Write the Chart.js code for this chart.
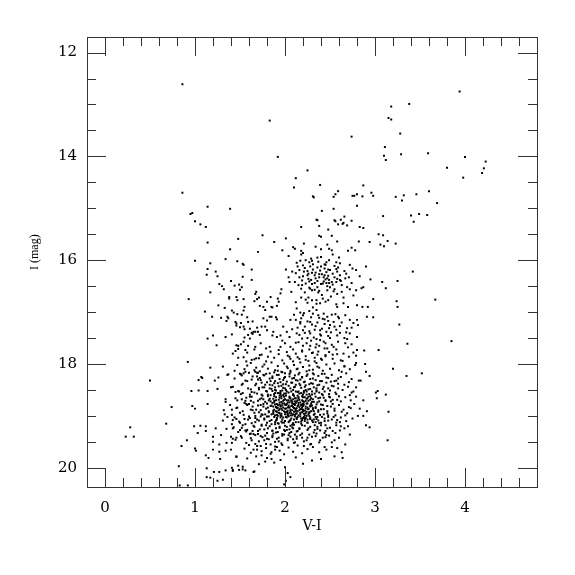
<!DOCTYPE html>
<html>
<head>
<meta charset="utf-8">
<script src="https://cdn.jsdelivr.net/npm/chart.js@4/dist/chart.umd.min.js"></script>
<style>
  html, body { margin: 0; padding: 0; background: #fff; }
</style>
</head>
<body>
<canvas id="cmd-chart" width="575" height="575"></canvas>
<script>
const xTicks = [0, 1, 2, 3, 4];
const yTicks = [12, 14, 16, 18, 20];

// [V-I, I]
const brightStars = [
  [0.86,12.61],[1.83,13.31],[1.92,14.01],[2.74,13.62],[2.25,14.27],[2.12,14.42],[2.10,14.60],[2.39,14.55],
  [2.59,14.67],[2.56,14.73],[2.54,14.78],[2.31,14.77],[2.32,14.79],[2.75,14.76],[2.77,14.76],[2.80,14.73],
  [2.87,14.56],[2.96,14.70],[2.98,14.76],[2.86,14.77],[2.80,14.95],[2.54,15.01],[2.41,15.05],[2.66,15.16],
  [2.35,15.22],[2.55,15.23],[2.56,15.25],[2.74,15.24],[2.64,15.30],[2.69,15.33],[2.38,15.34],[2.83,15.36],
  [2.87,15.38],[2.18,15.36],[2.48,15.41],[0.86,14.70],[1.14,14.97],[1.39,15.01],[0.97,15.09],[0.95,15.11],
  [1.00,15.25],[1.06,15.31],[1.12,15.36],[3.94,12.75],[3.38,12.99],[3.18,13.04],[3.15,13.26],[3.18,13.29],
  [3.28,13.56],[3.11,13.82],[3.10,13.99],[3.12,14.07],[3.29,13.96],[3.59,13.94],[4.00,14.01],[4.23,14.10],
  [4.21,14.23],[4.19,14.32],[3.80,14.22],[3.98,14.41],[3.69,14.90],[3.60,14.67],[3.46,14.73],[3.32,14.75],
  [3.23,14.78],[3.30,14.85],[3.09,15.15],[3.40,15.14],[3.43,15.26],[3.49,15.11],[3.58,15.13],[2.36,15.23],
  [2.62,15.22],[2.59,15.31],[2.65,15.28]
];

const clumpStars = [
  [1.75,15.52],[1.88,15.65],[1.48,15.59],[1.14,15.66],[1.39,15.79],[1.70,15.84],[2.01,15.58],[2.21,15.68],
  [2.38,15.53],[2.40,15.55],[2.47,15.70],[2.52,15.53],[2.58,15.64],[2.34,15.74],[2.40,15.79],[1.97,15.81],
  [2.09,15.75],[2.11,15.78],[2.18,15.82],[2.49,15.78],[2.70,15.82],[2.74,15.76],[2.78,15.81],[2.82,15.64],
  [2.94,15.65],[3.04,15.50],[3.09,15.52],[3.06,15.70],[3.10,15.73],[3.14,15.63],[3.23,15.68],[1.00,16.01],
  [1.17,16.06],[1.14,16.17],[1.13,16.28],[1.23,16.22],[1.25,16.31],[1.34,15.98],[1.47,16.02],[1.53,16.07],
  [1.54,16.09],[1.63,16.18],[1.40,16.40],[1.27,16.46],[1.30,16.50],[1.32,16.56],[1.17,16.62],[1.44,16.49],
  [1.49,16.47],[1.52,16.52],[1.50,16.57],[1.63,16.38],[1.53,16.32],[0.93,16.75],[1.26,16.87],[1.38,16.71],
  [1.38,16.74],[1.46,16.71],[1.47,16.77],[1.54,16.75],[1.68,16.61],[1.67,16.65],[1.69,16.75],[1.71,16.72],
  [1.66,16.79],[1.72,16.88],[1.78,16.96],[1.84,16.71],[1.92,16.74],[1.86,16.91],[1.91,16.88],
  [2.18,15.89],[2.20,15.86],[2.13,16.05],[2.17,16.01],[2.23,16.00],[2.27,16.04],[2.30,16.01],[2.36,15.95],
  [2.40,15.94],[2.37,16.03],[2.46,16.04],[2.49,16.00],[2.44,16.08],[2.52,15.81],[2.53,15.89],[2.57,16.04],
  [2.59,16.14],[2.72,16.09],[2.75,16.16],[2.79,16.19],[2.08,16.22],[2.12,16.25],[2.16,16.19],[2.20,16.31],
  [2.25,16.29],[2.30,16.24],[2.33,16.29],[2.38,16.33],[2.43,16.33],[2.47,16.35],[2.45,16.37],[2.52,16.42],
  [2.57,16.42],[2.61,16.38],[2.67,16.35],[2.71,16.33],[2.01,16.18],[2.04,16.33],[2.05,16.42],[1.96,16.56],
  [1.95,16.64],[2.11,16.42],[2.15,16.48],[2.19,16.48],[2.23,16.45],[2.27,16.53],[2.30,16.58],[2.36,16.52],
  [2.38,16.59],[2.41,16.67],[2.47,16.58],[2.50,16.52],[2.55,16.56],[2.58,16.65],[2.63,16.61],[2.69,16.52],
  [2.72,16.56],[2.79,16.58],[2.85,16.54],[2.87,16.52],[2.18,16.72],[2.23,16.76],[2.26,16.72],[2.30,16.77],
  [2.35,16.77],[2.39,16.83],[2.45,16.80],[2.48,16.77],[2.58,16.90],[2.65,16.83],[2.70,16.90],[2.80,16.87],
  [2.86,16.90],[2.92,16.90],[2.98,16.75],[2.95,16.37],[3.08,16.42],[3.12,16.54],[3.25,16.40],[3.24,16.79],
  [3.25,16.90],[3.42,16.22],[3.67,16.76],[1.85,16.90],[1.93,16.80],[1.76,16.90],[1.80,16.80],
  [2.22,16.15],[2.25,16.21],[2.28,16.12],[2.31,16.18],[2.34,16.24],[2.36,16.14],[2.39,16.20],[2.41,16.27],
  [2.44,16.16],[2.46,16.23],[2.48,16.30],[2.50,16.19],[2.53,16.26],[2.55,16.33],[2.58,16.22],[2.61,16.29],
  [2.29,16.38],[2.33,16.44],[2.36,16.40],[2.40,16.46],[2.43,16.41],[2.46,16.44],[2.49,16.38],[2.53,16.47],
  [2.26,16.36],
  [2.31,16.08],[2.42,16.45],[2.26,16.26],[2.55,16.11],[2.37,16.62],[2.48,16.18],[2.19,16.39],[2.63,16.48],
  [2.34,16.35],[2.51,16.70],[2.28,16.55],[2.44,16.29],[2.58,16.36],[2.22,16.62],[2.40,16.12],[2.66,16.21],
  [2.35,16.84],[2.47,16.50],[2.29,15.97],[2.54,16.60],[2.16,16.33],[2.42,16.74],[2.61,16.06],[2.38,16.27],
  [2.49,16.44],[2.25,16.82],[2.33,16.57],[2.57,16.85],[2.45,16.09],[2.20,16.10],[2.74,16.44],[2.30,16.46],
  [2.21,16.22],[2.57,16.17],[2.14,16.12],[2.62,16.40],[2.27,16.41],[2.68,16.26],[2.18,16.55],
  [2.07,16.61],[2.12,16.81],[2.76,16.68],[2.83,16.31],[2.65,16.72],[2.04,15.92],[2.60,15.95],[2.90,16.12]
];

const giantBranch = [
  [2.13,16.93],[2.17,17.01],[2.20,17.06],[2.27,16.98],[2.31,16.91],[2.35,16.96],[2.37,17.06],[2.43,17.03],
  [2.47,17.09],[2.12,17.15],[2.17,17.22],[2.22,17.28],[2.28,17.19],[2.34,17.27],[2.39,17.35],[2.44,17.23],
  [2.49,17.31],[2.54,17.19],[2.59,17.09],[2.67,17.06],[2.72,17.15],[2.80,17.15],[2.91,17.09],[2.98,17.10],
  [2.80,17.48],[2.81,17.25],[2.69,17.31],[2.72,17.41],[1.98,17.28],[2.02,17.38],[2.05,17.48],[2.13,17.41],
  [2.19,17.51],[2.24,17.60],[2.28,17.41],[2.32,17.49],[2.35,17.62],[2.39,17.54],[2.45,17.60],[2.48,17.46],
  [2.54,17.67],[2.59,17.57],[2.67,17.60],[1.87,17.38],[1.91,17.48],[1.78,17.28],[1.67,17.38],[1.72,17.44],
  [1.46,17.22],[1.54,17.28],[1.61,17.51],[1.83,17.67],[1.95,17.67],[2.06,17.67],[3.27,17.24],[3.85,17.56],
  [3.36,17.61],[1.83,17.09],
  [2.10,17.05],[2.14,17.30],[2.18,17.12],[2.22,17.40],[2.25,17.18],[2.29,17.55],[2.31,17.03],[2.33,17.34],
  [2.36,17.20],[2.40,17.45],[2.42,17.13],[2.44,17.70],[2.46,17.38],[2.50,17.50],[2.52,17.05],[2.55,17.28],
  [2.57,17.72],[2.61,17.40],[2.63,17.20],[2.66,17.50],[2.70,17.68],[2.74,17.30],[2.20,17.65],[2.27,17.72],
  [2.38,17.65],[2.15,17.58],[2.06,17.15],[2.00,17.60],[1.95,17.45],[1.90,17.10],
  [1.11,16.99],[1.19,17.09],[1.33,16.92],[1.41,16.97],[1.43,17.01],[1.36,17.09],[1.37,17.12],[1.35,17.17],
  [1.29,17.11],[1.47,17.04],[1.52,17.05],[1.54,16.97],[1.55,16.90],[1.45,17.19],[1.51,17.21],[1.46,17.26],
  [1.58,17.10],[1.59,17.19],[1.64,17.18],[1.76,17.12],[1.14,17.51],[1.20,17.45],[1.34,17.48],[1.41,17.43],
  [1.50,17.29],[1.55,17.33],[1.61,17.32],[1.63,17.40],[1.65,17.38],[1.69,17.30],[1.70,17.38],[1.74,17.28],
  [1.80,17.35],[1.24,17.64],[1.46,17.64],[1.48,17.71],[1.51,17.62],[1.42,17.80],[1.56,17.73],[1.59,17.65],
  [1.67,17.67],[1.73,17.60],[1.63,17.92],[1.68,17.89],[1.72,17.83],[0.92,17.96],[1.80,17.16],[1.85,17.09],
  [1.91,17.14],[1.86,17.45],[1.45,17.75],[1.48,17.65],[1.54,17.57],[1.55,17.49],[1.59,17.44],[1.64,17.42],
  [1.54,17.87],[1.71,17.89],
  [2.88,17.74],[3.04,17.73],[2.79,17.98],[2.79,17.84],[2.80,17.73],[2.89,18.00],[2.90,18.15],[2.94,18.23],
  [2.82,18.32],[2.84,18.32],[3.20,18.09],[3.52,18.18],[3.35,18.23],
  [2.16,17.44],[2.38,17.11],[2.52,17.63],[2.23,17.92],[2.61,17.27],[2.08,17.33],[2.45,17.85],[2.30,17.24],
  [2.69,17.52],[2.19,17.76],[2.56,17.04],[2.34,17.68],[2.03,17.84],[2.48,17.17],[2.27,17.37],[2.65,17.80],
  [2.12,17.59],[2.41,17.32],[2.58,17.45],[2.21,17.02],[2.36,17.82],[2.74,17.62],[2.09,17.72],[2.43,17.57],
  [2.29,17.10],[2.62,17.93],[2.17,17.19],[2.51,17.39],[2.33,17.95],[2.76,17.21],[2.25,17.50],[2.47,17.70],
  [2.14,17.87],[2.39,17.43],[2.60,17.12],[2.31,17.78],[1.97,17.55],[2.53,17.82],[2.20,17.35],[2.44,17.14],
  [2.68,17.39],[2.06,17.90],[2.35,17.52],[2.57,17.34],[1.93,17.73],[2.28,17.65],[2.50,17.25],[2.40,17.90]
];

const mainBody = [
  [1.58,17.78],[1.66,17.91],[1.74,17.82],[1.79,17.95],[1.84,17.76],[1.88,17.88],[1.93,17.81],[1.97,17.93],
  [2.02,17.77],[2.05,17.86],[2.09,17.95],[2.12,17.80],[2.16,17.90],[2.19,17.74],[2.23,17.85],[2.26,17.94],
  [2.30,17.79],[2.33,17.88],[2.37,17.76],[2.41,17.92],[2.45,17.83],[2.49,17.77],[2.53,17.90],[2.58,17.81],
  [2.64,17.94],[2.71,17.86],[2.76,17.78],
  [1.47,18.02],[1.55,18.10],[1.62,17.98],[1.68,18.07],[1.72,18.14],[1.77,18.01],[1.81,18.09],[1.85,17.97],
  [1.89,18.12],[1.92,18.04],[1.96,18.15],[1.99,17.99],[2.03,18.08],[2.06,18.13],[2.10,18.02],[2.13,18.10],
  [2.17,17.97],[2.20,18.06],[2.24,18.14],[2.27,18.03],[2.31,18.11],[2.35,17.98],[2.38,18.07],[2.42,18.13],
  [2.46,18.01],[2.50,18.09],[2.55,17.99],[2.60,18.12],[2.66,18.04],[2.72,18.10],[2.78,18.02],
  [1.44,18.28],[1.51,18.20],[1.58,18.33],[1.64,18.24],[1.69,18.17],[1.73,18.31],[1.77,18.22],[1.80,18.35],
  [1.83,18.18],[1.86,18.27],[1.89,18.33],[1.91,18.21],[1.94,18.29],[1.97,18.16],[2.00,18.25],[2.02,18.34],
  [2.05,18.19],[2.08,18.28],[2.11,18.22],[2.14,18.32],[2.16,18.17],[2.19,18.26],[2.22,18.34],[2.25,18.20],
  [2.28,18.29],[2.31,18.18],[2.34,18.31],[2.37,18.23],[2.41,18.33],[2.44,18.19],[2.48,18.27],[2.52,18.21],
  [2.57,18.32],[2.62,18.25],[2.68,18.18],[2.74,18.29],
  [1.42,18.44],[1.48,18.52],[1.53,18.38],[1.59,18.47],[1.63,18.54],[1.67,18.41],[1.71,18.49],[1.74,18.36],
  [1.77,18.45],[1.80,18.53],[1.83,18.40],[1.85,18.48],[1.88,18.37],[1.90,18.51],[1.93,18.43],[1.95,18.55],
  [1.98,18.39],[2.00,18.47],[2.02,18.53],[2.04,18.42],[2.07,18.36],[2.09,18.50],[2.11,18.44],[2.14,18.54],
  [2.16,18.38],[2.18,18.46],[2.21,18.52],[2.23,18.41],[2.26,18.49],[2.29,18.37],[2.32,18.45],[2.35,18.53],
  [2.38,18.40],[2.42,18.48],[2.46,18.36],[2.50,18.51],[2.54,18.43],[2.59,18.38],[2.64,18.50],[2.70,18.44],
  [2.76,18.53],
  [1.45,18.66],[1.51,18.58],[1.56,18.71],[1.61,18.63],[1.65,18.74],[1.69,18.57],[1.72,18.68],[1.75,18.61],
  [1.78,18.73],[1.81,18.59],[1.83,18.67],[1.86,18.75],[1.88,18.62],[1.90,18.70],[1.92,18.56],[1.94,18.65],
  [1.96,18.73],[1.98,18.60],[2.00,18.68],[2.01,18.57],[2.03,18.74],[2.05,18.63],[2.07,18.70],[2.09,18.58],
  [2.11,18.66],[2.12,18.75],[2.14,18.61],[2.16,18.69],[2.18,18.56],[2.20,18.72],[2.22,18.64],[2.24,18.59],
  [2.26,18.71],[2.28,18.62],[2.31,18.68],[2.33,18.57],[2.36,18.74],[2.39,18.65],[2.42,18.60],[2.45,18.71],
  [2.49,18.63],[2.53,18.69],[2.57,18.58],[2.62,18.72],[2.67,18.64],[2.73,18.70],
  [1.47,18.84],[1.53,18.91],[1.58,18.79],[1.62,18.88],[1.66,18.94],[1.70,18.80],[1.73,18.89],[1.76,18.77],
  [1.79,18.86],[1.82,18.93],[1.84,18.81],[1.87,18.90],[1.89,18.78],[1.91,18.85],[1.93,18.94],[1.95,18.82],
  [1.97,18.89],[1.99,18.76],[2.00,18.86],[2.02,18.93],[2.04,18.80],[2.06,18.88],[2.07,18.95],[2.09,18.83],
  [2.10,18.77],[2.12,18.91],[2.13,18.85],[2.15,18.79],[2.17,18.94],[2.18,18.87],[2.20,18.81],[2.22,18.90],
  [2.24,18.76],[2.25,18.84],[2.27,18.93],[2.29,18.80],[2.31,18.88],[2.34,18.83],[2.37,18.92],[2.40,18.78],
  [2.43,18.87],[2.47,18.95],[2.51,18.82],[2.55,18.90],[2.60,18.79],[2.65,18.88],[2.71,18.83],
  [1.44,19.03],[1.49,19.11],[1.54,18.98],[1.59,19.07],[1.63,19.14],[1.67,19.00],[1.71,19.09],[1.74,18.97],
  [1.77,19.05],[1.80,19.13],[1.82,19.01],[1.85,19.08],[1.87,18.96],[1.89,19.12],[1.91,19.04],[1.93,19.15],
  [1.95,18.99],[1.97,19.07],[1.99,19.13],[2.01,19.02],[2.03,18.97],[2.05,19.10],[2.07,19.05],[2.09,19.14],
  [2.11,18.98],[2.13,19.06],[2.15,19.12],[2.17,19.01],[2.19,19.08],[2.21,18.96],[2.23,19.04],[2.25,19.13],
  [2.27,19.00],[2.30,19.09],[2.32,18.98],[2.35,19.06],[2.38,19.14],[2.41,19.02],[2.44,19.10],[2.48,18.99],
  [2.52,19.07],[2.57,19.13],[2.62,19.03],[2.68,19.10],
  [1.42,19.24],[1.48,19.31],[1.53,19.18],[1.58,19.27],[1.62,19.34],[1.66,19.21],[1.70,19.29],[1.74,19.17],
  [1.77,19.26],[1.80,19.33],[1.83,19.20],[1.86,19.28],[1.89,19.16],[1.92,19.31],[1.94,19.23],[1.97,19.35],
  [2.00,19.19],[2.02,19.27],[2.05,19.33],[2.08,19.22],[2.10,19.17],[2.13,19.30],[2.16,19.24],[2.19,19.34],
  [2.22,19.19],[2.25,19.27],[2.28,19.21],[2.32,19.32],[2.36,19.25],[2.40,19.18],[2.45,19.29],[2.50,19.23],
  [2.56,19.33],[2.62,19.20],
  [1.45,19.46],[1.51,19.39],[1.57,19.52],[1.62,19.43],[1.67,19.37],[1.71,19.49],[1.75,19.41],[1.79,19.54],
  [1.82,19.45],[1.86,19.38],[1.89,19.50],[1.93,19.42],[1.96,19.53],[1.99,19.36],[2.03,19.47],[2.06,19.40],
  [2.10,19.52],[2.13,19.44],[2.17,19.37],[2.21,19.49],[2.25,19.42],[2.29,19.54],[2.34,19.39],[2.39,19.47],
  [2.45,19.41],[2.52,19.51],
  [1.55,19.63],[1.62,19.71],[1.69,19.58],[1.74,19.68],[1.79,19.62],[1.84,19.73],[1.89,19.59],[1.94,19.67],
  [1.99,19.74],[2.04,19.61],[2.09,19.69],[2.14,19.57],[2.19,19.72],[2.25,19.64],[2.31,19.60],[2.38,19.70],
  [2.46,19.65],
  [1.58,19.82],[1.71,19.93],[1.95,19.85],[2.12,19.80],[2.20,19.92],[2.40,19.83]
];

const mainCore = [
  [1.86,18.52],[1.88,18.58],[1.90,18.64],[1.93,18.69],[1.95,18.58],[1.97,18.51],[1.99,18.63],[2.02,18.70],
  [2.04,18.55],[2.06,18.66],[2.08,18.73],[2.10,18.61],[2.12,18.53],[2.15,18.66],[2.17,18.74],[2.19,18.62],
  [2.21,18.55],[2.24,18.67],[2.27,18.58],[2.30,18.73],[1.87,18.82],[1.90,18.91],[1.92,18.79],[1.94,18.87],
  [1.96,18.96],[1.98,18.84],[2.01,18.79],[2.03,18.90],[2.05,18.84],[2.08,18.80],[2.10,18.92],[2.11,18.86],
  [2.14,18.81],[2.16,18.89],[2.19,18.84],[2.21,18.78],[2.23,18.95],[2.26,18.87],[2.28,18.82],[2.32,18.91],
  [2.35,18.78],[1.88,19.02],[1.90,19.09],[1.92,19.00],[1.96,19.11],[1.98,19.03],[2.00,19.10],[2.04,19.01],
  [2.06,19.08],[2.08,18.99],[2.10,19.07],[2.12,19.12],[2.14,19.02],[2.18,19.11],[2.20,19.04],[2.22,19.10],
  [2.24,19.00],[2.28,19.06],[2.31,19.12],[2.34,19.02],[2.37,19.09],
  [1.83,18.47],[2.27,18.12],[1.94,19.21],[2.41,18.58],[1.71,18.93],[2.08,18.36],[2.33,19.27],[1.62,18.49],
  [2.15,18.99],[1.99,18.27],[2.47,18.81],[1.78,19.38],[2.22,18.44],[1.88,18.71],[2.36,18.05],[2.03,19.44],
  [1.67,19.12],[2.29,18.66],[1.92,18.13],[2.54,19.02],[1.81,18.84],[2.12,18.31],[2.44,19.33],[1.74,18.59],
  [2.19,19.18],[1.96,18.42],[2.38,18.72],[1.86,19.29],[2.06,18.91],[2.59,18.47],[1.69,18.24],[2.24,19.47],
  [1.91,18.98],[2.31,18.38],[2.01,18.61],[1.77,19.07],[2.43,18.97],[2.14,18.09],[1.84,18.33],[2.26,18.87],
  [1.97,19.38],[2.50,18.64],[1.64,18.82],[2.09,19.24],[2.35,18.51],[1.89,18.56],[2.18,18.78],[2.57,19.18],
  [1.79,18.19],[2.04,18.83],[2.40,19.13],[1.72,19.26],[2.21,18.35],[1.94,18.74],[2.46,18.26],[2.11,19.36],
  [1.85,19.16],[2.28,19.03],[2.00,18.18],[1.60,19.01],[2.37,18.89],[1.93,19.49],[2.16,18.57],[2.53,18.77],
  [1.76,18.68],[2.06,19.19],[2.32,18.20],[1.87,18.93],[2.23,18.71],[2.63,18.92],[1.98,18.46],[2.42,19.42],
  [1.68,18.38],[2.13,18.95],[1.90,19.32],[2.30,18.59],[2.02,18.05],[1.81,18.62],[2.48,19.09],[2.19,18.25],
  [1.95,19.03],[2.36,19.21],[1.73,18.79],[2.07,18.53],[2.25,19.13],[1.86,18.24],[2.56,18.55],[2.11,18.72],
  [1.99,19.27],[2.39,18.33],[1.65,19.19],[2.20,18.91],[1.92,18.37],[2.45,18.70],[2.04,19.12],[1.80,19.44],
  [2.28,18.48],[2.14,19.29],[1.88,18.88],[2.61,19.28],[2.02,18.77],[2.33,18.96],[1.75,18.45],[2.17,18.41],
  [1.96,18.66],[2.51,18.34],[2.09,18.97],[1.83,19.10],[2.27,19.36],[2.43,18.44],[1.70,19.35],[2.05,18.24],
  [2.34,18.63],[1.91,19.07],[2.21,19.02],[1.97,18.80],[2.15,18.64],[1.84,18.72],[2.39,18.98],[2.00,18.93],
  [2.24,18.53],[1.78,18.97],[2.47,19.24],[2.10,18.45],[1.94,18.95],[2.30,18.80],[2.07,19.31],[1.63,18.63],
  [2.55,18.86],[1.89,18.45],[2.18,19.05],[2.36,18.41],[2.01,18.39],[1.82,18.91],[2.26,18.97],[2.12,18.66],
  [1.95,18.52],[2.44,18.53],[2.08,18.89],[1.73,19.01],[2.32,19.07],[2.20,18.59],[1.90,18.83],[2.03,18.96],
  [2.16,18.83],[1.98,18.71],[2.29,18.91],[2.11,18.79],[1.87,18.67],[2.23,18.82],[2.05,18.74],[1.93,18.89],
  [2.14,18.91],[2.01,18.86],[2.19,18.70],[2.07,18.81],[1.96,19.00],[2.25,18.76],[2.09,18.68],[2.13,19.04],
  [1.99,18.91],[2.17,18.97],[2.04,18.70],[2.22,19.06],[1.92,18.84],[2.10,18.85],[2.28,18.69],[2.00,18.78],
  [2.15,18.75],[2.06,18.99],[1.97,18.76],[2.20,18.88],[2.12,18.96],[1.89,18.99],[2.24,18.92],[2.03,18.84],
  [2.18,18.80],[2.08,18.76],[1.95,18.80],[2.31,18.85],[2.13,18.72],[2.02,19.03],[2.21,18.73],[1.91,18.77]
];

const blobOuter = [
  [1.72,18.27],[2.41,18.19],[1.86,19.41],[2.28,19.55],[1.79,18.52],[2.47,18.91],[1.93,18.21],[2.35,19.34],
  [1.68,18.88],[2.52,18.42],[1.81,19.24],[2.19,19.42],[2.06,18.16],[2.44,19.05],[1.75,18.98],[2.31,18.28],
  [1.97,19.56],[2.56,18.99],[1.64,19.29],[2.24,18.23],[1.88,18.16],[2.38,19.51],[1.77,19.47],[2.49,18.58],
  [2.11,19.51],[1.83,18.28],[2.60,18.62],[1.70,18.71],[2.33,19.18],[1.98,18.31],[2.21,19.58],[1.85,18.80],
  [2.42,18.79],[2.04,19.37],[1.74,19.19],[2.27,18.39],[1.91,19.44],[2.53,19.29],[1.66,18.55],[2.15,18.20],
  [2.37,18.66],[1.80,19.01],[2.09,19.45],[2.48,18.47],[1.94,18.61],[2.26,19.24],[1.71,18.46],[2.02,19.21],
  [2.40,18.87],[1.87,19.34],[2.17,18.30],[2.58,19.08],[1.78,18.40],[2.30,19.40],[1.99,18.57],[2.45,19.18],
  [1.84,18.60],[2.13,19.40],[2.35,18.47],[1.69,19.07],[2.06,18.47],[2.51,18.72],[1.92,19.14],[2.23,18.50],
  [1.76,18.82],[2.39,19.28],[2.00,19.29],[1.82,18.70],[2.29,18.76],[2.10,18.27],[1.95,18.35],[2.46,19.37],
  [1.73,19.39],[2.18,19.15],[2.34,18.85],[1.89,18.50],[2.05,19.26],[2.55,18.33],[1.62,18.71],[2.25,19.07],
  [1.96,18.62],[2.12,18.40],[2.32,18.73],[1.85,18.97],[2.08,19.17],[2.43,18.65],[1.79,19.18],[2.20,18.64],
  [2.01,18.50],[2.36,19.02],[1.90,19.24],[2.15,18.53],[1.74,18.66],[2.27,18.94],[2.03,18.99],[1.86,18.41],
  [2.48,19.02],[2.16,19.25],[1.93,18.56],[2.30,18.53],[2.09,18.60],[1.80,18.76],[2.38,18.55],[2.22,18.99],
  [2.05,18.65],[1.97,19.13],[2.26,18.63],[2.12,18.88],[1.88,18.74],[2.34,19.12],[2.19,18.93],[1.99,18.69],
  [2.02,18.92],[2.23,18.86],[2.07,18.71],[1.94,18.78],[2.17,18.87],[2.28,18.80],[2.11,19.01],[1.91,18.92],
  [2.14,18.70],[2.00,18.97],[2.25,18.66],[2.05,18.94],[2.20,18.77],[1.96,18.86]
];

const blueSide = [
  [0.50,18.32],[0.74,18.83],[0.68,19.15],[0.28,19.22],[0.23,19.40],[0.32,19.40],[0.91,19.47],[0.85,19.58],
  [0.82,19.97],[0.83,20.34],[0.92,20.34],[1.00,19.63],[1.01,19.67],[0.96,18.52],[1.04,18.31],[1.08,18.27],
  [1.17,18.07],[1.31,18.05],[1.36,18.21],[1.22,18.32],[1.25,18.48],[1.04,18.51],[1.14,18.52],[1.14,18.77],
  [0.97,18.81],[1.00,18.86],[1.12,19.20],[1.12,19.29],[0.99,19.20],[1.06,19.19],[1.03,19.33],[1.12,19.76],
  [1.15,19.81],[1.13,20.01],[1.13,20.18],[1.17,20.19],[1.21,20.08],[1.25,20.25],[1.31,20.23],[1.27,20.08],
  [1.34,20.05],[1.42,20.06],[1.49,20.04],[1.56,20.05],[1.65,20.08],[1.41,20.00],[1.20,19.40],[1.20,19.50],
  [1.27,19.55],[1.20,19.65],[1.27,19.69],[1.35,19.52],[1.41,19.52],[1.28,19.83],[1.46,19.79],[1.48,19.96],
  [1.34,18.68],[1.34,18.73],[1.32,18.89],[1.33,18.97],[1.31,19.09],[1.36,19.02],[1.39,18.79],[1.41,18.88],
  [1.41,18.98],[1.42,19.08],[1.41,19.16],[1.43,19.22],[1.40,19.40],[1.42,19.44],[1.34,19.67],[1.40,19.65],
  [1.35,19.25],[1.23,19.24],[1.29,19.37],[1.07,18.25],[1.37,18.20],[1.26,18.26],[1.40,18.45],[1.45,18.54],
  [1.49,18.53],[1.56,18.32],[1.63,18.30],[1.53,18.56],[1.47,18.70],[1.52,18.68],[1.57,18.65],[1.57,18.77],
  [1.60,18.77],[1.50,18.94],[1.46,19.06],[1.55,19.06],[1.50,19.27],[1.52,19.23],[1.56,19.28],[1.46,19.42],
  [1.52,19.42],[1.61,19.04],[1.67,19.04],[1.64,18.89],[1.56,19.16],[1.61,19.35],[1.65,19.35],[1.60,19.56],
  [1.67,19.54],[1.65,19.65],[1.69,19.65],[1.74,19.76],[1.80,19.81],[1.85,19.70],[1.89,19.65],[1.91,19.60],
  [1.52,18.22],[1.54,18.18],[1.60,18.17],[1.50,18.19],[1.56,18.15],[1.66,18.12],[1.70,18.17],[1.76,18.21],
  [1.57,17.95],[1.44,18.13],[1.66,17.72],[1.52,18.40],[1.75,18.05],[1.61,18.59],[1.48,17.88],[1.70,18.30],
  [1.58,18.03],[1.79,17.70],[1.46,18.85],[1.67,18.15],[1.55,18.75],[1.81,17.86],[1.63,19.47],[1.50,19.13],
  [1.73,19.58],[1.57,19.30],[1.84,19.55],[1.68,19.78]
];

const faintStars = [
  [2.64,19.81],[2.30,19.86],[2.00,19.99],[2.03,20.10],[2.06,20.18],[1.85,19.83],[1.88,19.90],[1.66,20.07],
  [1.53,20.03],[1.42,20.04],[1.78,19.88],[1.46,19.78],[1.53,19.98],[3.12,18.59],[3.03,18.52],[3.01,18.55],
  [3.02,18.66],[3.15,18.92],[2.91,18.91],[2.87,19.00],[2.81,19.00],[2.90,19.18],[2.94,19.22],[3.14,19.47],
  [2.87,18.70],[2.01,20.25],[1.99,20.32],
  [2.66,18.40],[2.72,18.60],[2.77,18.77],[2.69,18.95],[2.75,19.05],[2.66,19.24],[2.72,19.36],[2.60,19.42],
  [2.67,19.55],[2.58,19.62],[2.79,18.45],[2.83,18.86],[2.63,19.70],[2.55,19.78],
  [2.63,18.15],[2.71,18.35],[2.58,18.69],[2.67,18.99],[2.74,18.55],[2.61,19.12],[2.55,19.47],[2.70,19.20],
  [2.79,18.63],[2.66,18.05],[2.52,19.60],[2.73,18.85],[2.59,18.28],[2.49,19.38],[2.44,19.60]
];

const allStars = [].concat(brightStars, clumpStars, giantBranch, mainBody, mainCore, blobOuter, blueSide, faintStars);

// box round the plot with inward ticks on all four sides, plus the rotated y title
const frameTicks = {
  id: 'frameTicks',
  afterDraw(chart) {
    const { ctx, chartArea: { left, right, top, bottom }, scales: { x, y } } = chart;
    ctx.save();
    ctx.strokeStyle = '#333';
    ctx.lineWidth = 1;
    ctx.beginPath();
    for (let i = 0; i <= 23; i++) {
      const px = Math.round(x.getPixelForValue(i / 5)) + 0.5;
      const len = i % 5 === 0 ? 19 : 9;
      ctx.moveTo(px, bottom); ctx.lineTo(px, bottom - len);
      ctx.moveTo(px, top); ctx.lineTo(px, top + len);
    }
    for (let i = 0; i <= 16; i++) {
      const py = Math.round(y.getPixelForValue(12 + i / 2)) + 0.5;
      const len = i % 4 === 0 ? 19 : 9;
      ctx.moveTo(left, py); ctx.lineTo(left + len, py);
      ctx.moveTo(right, py); ctx.lineTo(right - len, py);
    }
    ctx.stroke();
    ctx.strokeRect(Math.round(left) + 0.5, Math.round(top) + 0.5, Math.round(right - left), Math.round(bottom - top));

    ctx.translate(35, y.getPixelForValue(16.0) - 8);
    ctx.rotate(-Math.PI / 2);
    ctx.fillStyle = '#000';
    ctx.font = '12px "Liberation Serif"';
    ctx.textAlign = 'center';
    ctx.textBaseline = 'middle';
    ctx.fillText('I (mag)', 0, 0);
    ctx.restore();
  }
};

const serif = 'DejaVu Serif';

new Chart(document.getElementById('cmd-chart'), {
  type: 'scatter',
  data: {
    datasets: [{
      data: allStars.map(([vi, mag]) => ({ x: vi, y: mag })),
      backgroundColor: '#000',
      borderWidth: 0,
      pointStyle: 'rect',
      pointRadius: 1.4
    }]
  },
  options: {
    responsive: false,
    animation: false,
    devicePixelRatio: 1,
    layout: { padding: { left: 0, right: 38, top: 37, bottom: 40 } },
    plugins: { legend: { display: false }, tooltip: { enabled: false } },
    scales: {
      x: {
        type: 'linear',
        min: -0.2,
        max: 4.8,
        afterBuildTicks: s => { s.ticks = xTicks.map(v => ({ value: v })); },
        afterFit: s => { s.height = 48; },
        grid: { display: false, drawTicks: false },
        border: { display: false },
        ticks: { padding: 12, color: '#000', font: { family: serif, size: 15 } },
        title: { display: true, text: 'V-I', color: '#000', padding: 0, font: { family: serif, size: 14 } }
      },
      y: {
        type: 'linear',
        reverse: true,
        min: 11.7,
        max: 20.37,
        afterBuildTicks: s => { s.ticks = yTicks.map(v => ({ value: v })); },
        afterFit: s => { s.width = 87; },
        grid: { display: false, drawTicks: false },
        border: { display: false },
        ticks: { padding: 10, color: '#000', font: { family: serif, size: 15 } }
      }
    }
  },
  plugins: [frameTicks]
});
</script>
</body>
</html>
